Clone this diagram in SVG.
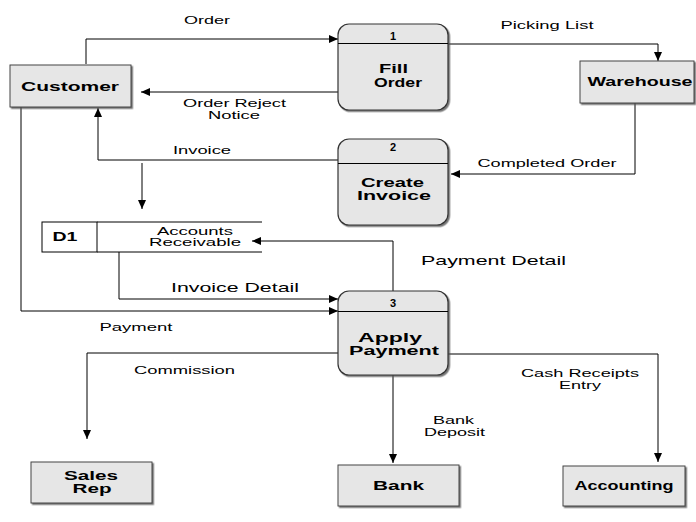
<svg xmlns="http://www.w3.org/2000/svg" width="696" height="522" viewBox="0 0 696 522">
<defs>
<marker id="arr" markerUnits="userSpaceOnUse" markerWidth="10" markerHeight="8" refX="9" refY="4" orient="auto">
<path d="M0,0 L9,4 L0,8 Z" fill="#000"/>
</marker>
<filter id="sh" x="-10%" y="-10%" width="130%" height="130%">
<feDropShadow dx="1.5" dy="1.5" stdDeviation="0.6" flood-color="#555" flood-opacity="0.8"/>
</filter>
</defs>
<style>
text{font-family:"Liberation Sans",Arial,sans-serif;fill:#000;text-anchor:middle}
.lbl{font-size:11px}
.big{font-size:13px}
.nt{font-size:12.5px;font-weight:bold}
.num{font-size:11px;font-weight:bold}
.ent{fill:#e6e6e6;stroke:#444;stroke-width:1}
.proc{fill:#e6e6e6;stroke:#333;stroke-width:1.2}
.ln{fill:none;stroke:#000;stroke-width:1}
.conn path{fill:none;stroke:#000;stroke-width:1}
</style>
<rect width="696" height="522" fill="#fff"/>

<g id="connectors" class="conn">
<path d="M86,64 V39 H338" marker-end="url(#arr)"/>
<path d="M448,44 H658 V61" marker-end="url(#arr)"/>
<path d="M338,92 H141" marker-end="url(#arr)"/>
<path d="M338,160 H98 V108" marker-end="url(#arr)"/>
<path d="M142,163 V209" marker-end="url(#arr)"/>
<path d="M635,103 V174 H451" marker-end="url(#arr)"/>
<path d="M393,291 V241 H252" marker-end="url(#arr)"/>
<path d="M119,252 V299 H338" marker-end="url(#arr)"/>
<path d="M21,107 V311 H338" marker-end="url(#arr)"/>
<path d="M338,353 H87 V439" marker-end="url(#arr)"/>
<path d="M393,375 V463" marker-end="url(#arr)"/>
<path d="M448,354 H658 V462" marker-end="url(#arr)"/>
</g>

<g id="labels">
<text class="lbl" x="207" y="24" textLength="46" lengthAdjust="spacingAndGlyphs">Order</text>
<text class="lbl" x="547" y="29" textLength="93" lengthAdjust="spacingAndGlyphs">Picking List</text>
<text class="lbl" x="234.5" y="107" textLength="103" lengthAdjust="spacingAndGlyphs">Order Reject</text>
<text class="lbl" x="234" y="119" textLength="52" lengthAdjust="spacingAndGlyphs">Notice</text>
<text class="lbl" x="202" y="154" textLength="58" lengthAdjust="spacingAndGlyphs">Invoice</text>
<text class="lbl" x="547" y="167" textLength="139" lengthAdjust="spacingAndGlyphs">Completed Order</text>
<text class="big" x="493.5" y="265" textLength="145" lengthAdjust="spacingAndGlyphs">Payment Detail</text>
<text class="big" x="235" y="292" textLength="128" lengthAdjust="spacingAndGlyphs">Invoice Detail</text>
<text class="lbl" x="136" y="331" textLength="73" lengthAdjust="spacingAndGlyphs">Payment</text>
<text class="lbl" x="184.5" y="374" textLength="101" lengthAdjust="spacingAndGlyphs">Commission</text>
<text class="lbl" x="453.5" y="424" textLength="41" lengthAdjust="spacingAndGlyphs">Bank</text>
<text class="lbl" x="454.5" y="436" textLength="61" lengthAdjust="spacingAndGlyphs">Deposit</text>
<text class="lbl" x="580" y="377" textLength="118" lengthAdjust="spacingAndGlyphs">Cash Receipts</text>
<text class="lbl" x="580" y="389" textLength="42" lengthAdjust="spacingAndGlyphs">Entry</text>
</g>

<g id="customer">
<rect class="ent" x="10" y="65" width="121" height="42" filter="url(#sh)"/>
<text class="nt" x="70" y="91" textLength="98" lengthAdjust="spacingAndGlyphs">Customer</text>
</g>

<g id="warehouse">
<rect class="ent" x="580" y="61" width="114" height="42" filter="url(#sh)"/>
<text class="nt" x="640" y="86" textLength="105" lengthAdjust="spacingAndGlyphs">Warehouse</text>
</g>

<g id="sales-rep">
<rect class="ent" x="31" y="462" width="121" height="41" filter="url(#sh)"/>
<text class="nt" x="91" y="479.5" textLength="54" lengthAdjust="spacingAndGlyphs">Sales</text>
<text class="nt" x="92" y="493" textLength="39" lengthAdjust="spacingAndGlyphs">Rep</text>
</g>

<g id="bank">
<rect class="ent" x="338" y="465" width="121" height="41" filter="url(#sh)"/>
<text class="nt" x="398.5" y="490" textLength="51" lengthAdjust="spacingAndGlyphs">Bank</text>
</g>

<g id="accounting">
<rect class="ent" x="563" y="466" width="122" height="40" filter="url(#sh)"/>
<text class="nt" x="624" y="490" textLength="99" lengthAdjust="spacingAndGlyphs">Accounting</text>
</g>

<g id="p1">
<rect class="proc" x="338" y="24" width="110" height="86" rx="11" filter="url(#sh)"/>
<line class="ln" x1="338" y1="43.5" x2="448" y2="43.5"/>
<text class="num" x="393" y="40">1</text>
<text class="nt" x="393.5" y="73" textLength="29" lengthAdjust="spacingAndGlyphs">Fill</text>
<text class="nt" x="398" y="87" textLength="48" lengthAdjust="spacingAndGlyphs">Order</text>
</g>

<g id="p2">
<rect class="proc" x="338" y="139" width="110" height="86" rx="11" filter="url(#sh)"/>
<line class="ln" x1="338" y1="163.5" x2="448" y2="163.5"/>
<text class="num" x="393" y="151">2</text>
<text class="nt" x="392.5" y="186.5" textLength="63" lengthAdjust="spacingAndGlyphs">Create</text>
<text class="nt" x="394" y="200" textLength="74" lengthAdjust="spacingAndGlyphs">Invoice</text>
</g>

<g id="p3">
<rect class="proc" x="338" y="291" width="110" height="84" rx="11" filter="url(#sh)"/>
<line class="ln" x1="338" y1="311.5" x2="448" y2="311.5"/>
<text class="num" x="393" y="307">3</text>
<text class="nt" x="390" y="341.5" textLength="64" lengthAdjust="spacingAndGlyphs">Apply</text>
<text class="nt" x="394" y="355" textLength="90" lengthAdjust="spacingAndGlyphs">Payment</text>
</g>

<g id="d1">
<rect x="42" y="222" width="55" height="30" fill="#fff" stroke="#000" stroke-width="1"/>
<line class="ln" x1="97" y1="222" x2="262" y2="222"/>
<line class="ln" x1="97" y1="252" x2="262" y2="252"/>
<text class="num" x="65" y="241" textLength="25" lengthAdjust="spacingAndGlyphs" style="font-size:12px">D1</text>
<text class="lbl" x="195" y="235" textLength="76" lengthAdjust="spacingAndGlyphs">Accounts</text>
<text class="lbl" x="195" y="246" textLength="92" lengthAdjust="spacingAndGlyphs">Receivable</text>
</g>
</svg>
